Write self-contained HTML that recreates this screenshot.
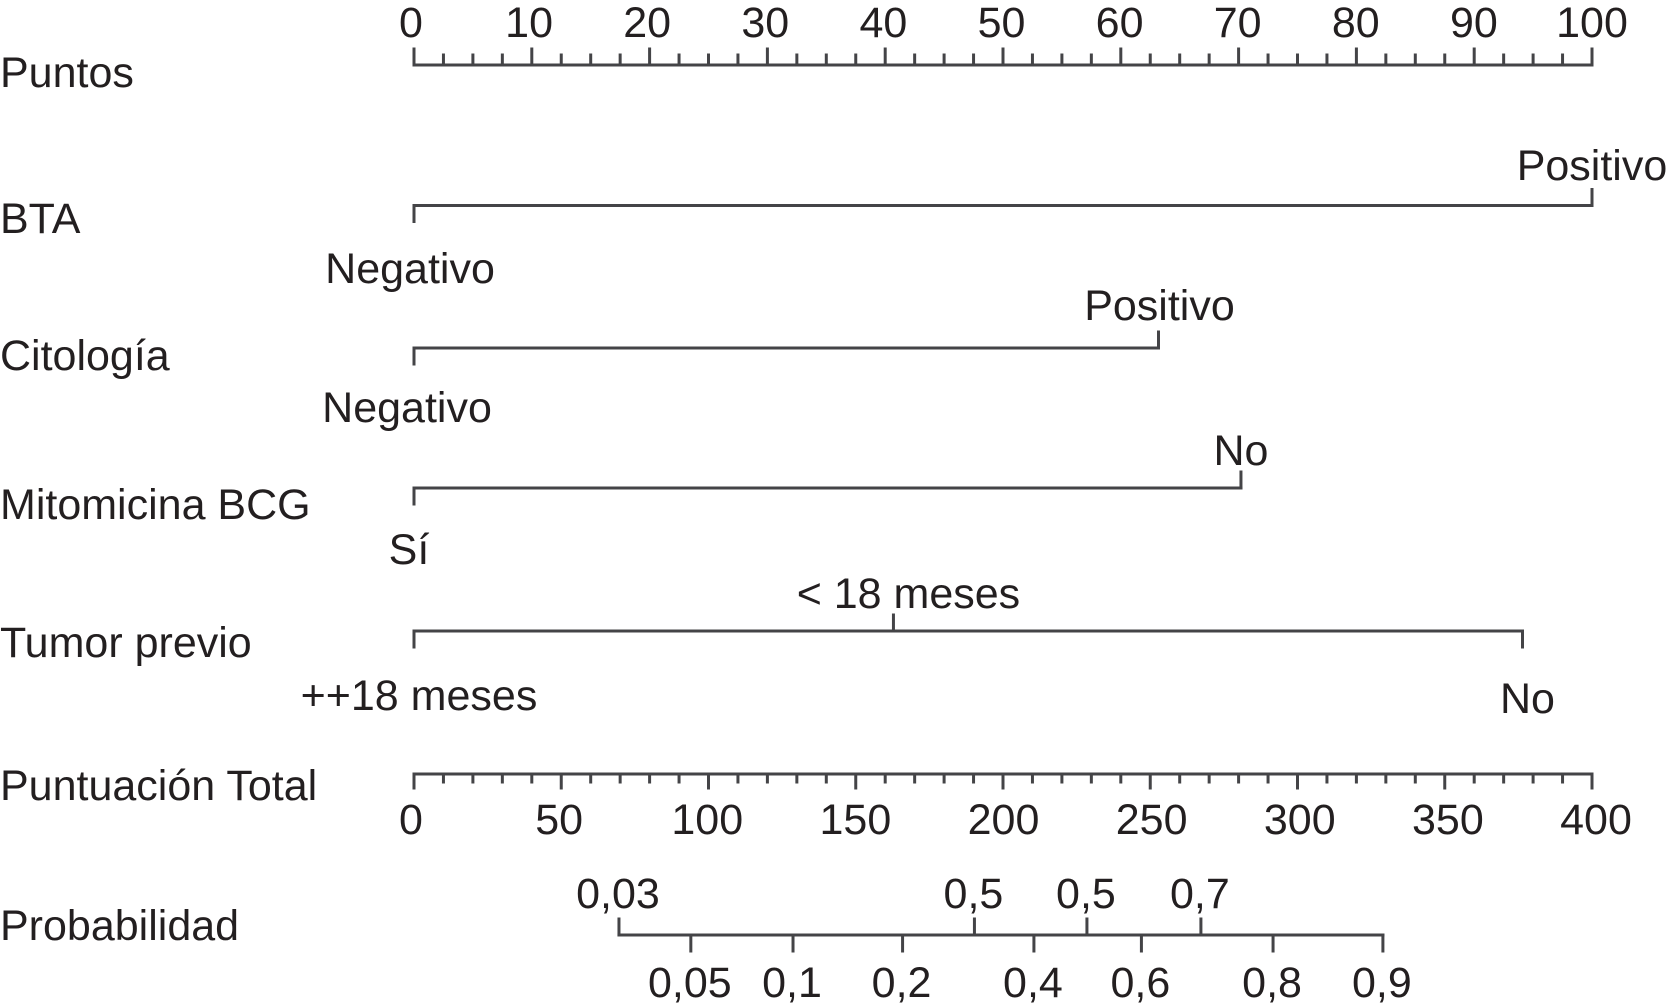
<!DOCTYPE html>
<html lang="es">
<head>
<meta charset="utf-8">
<title>Nomograma</title>
<style>
html,body{margin:0;padding:0;background:#fff;width:1667px;height:1008px;overflow:hidden}
svg{display:block}
text{font-family:"Liberation Sans",Arial,sans-serif;font-size:43px;fill:#231f20}
</style>
</head>
<body>
<svg id="nomogram" xmlns="http://www.w3.org/2000/svg" width="1667" height="1008" viewBox="0 0 1667 1008">
  <rect width="1667" height="1008" fill="#ffffff"/>
  <g>
    <text x="0" y="87">Puntos</text>
    <text x="0" y="233">BTA</text>
    <text x="0" y="370">Citología</text>
    <text x="0" y="519">Mitomicina BCG</text>
    <text x="0" y="657">Tumor previo</text>
    <text x="0" y="800">Puntuación Total</text>
    <text x="0" y="940">Probabilidad</text>
  </g>
</svg>
<script>
// Points axis
const pointsLabels = ['0','10','20','30','40','50','60','70','80','90','100'];
const pointsMajor = [0,10,20,30,40,50,60,70,80,90,100];
const pointsMinor = [2.5,5,7.5,12.5,15,17.5,22.5,25,27.5,32.5,35,37.5,42.5,45,47.5,52.5,55,57.5,62.5,65,67.5,72.5,75,77.5,82.5,85,87.5,92.5,95,97.5];

// Categorical predictors (values in points)
const btaValues = [0,100];
const btaLabels = ['Negativo','Positivo'];
const citologiaValues = [0,63.2];
const citologiaLabels = ['Negativo','Positivo'];
const mitomicinaValues = [0,70.2];
const mitomicinaLabels = ['Sí','No'];
const tumorValues = [0,40.7,94.1];
const tumorLabels = ['++18 meses','< 18 meses','No'];

// Total score axis
const totalLabels = ['0','50','100','150','200','250','300','350','400'];
const totalMajor = [0,50,100,150,200,250,300,350,400];
const totalMinor = [10,20,30,40,60,70,80,90,110,120,130,140,160,170,180,190,210,220,230,240,260,270,280,290,310,320,330,340,360,370,380,390];

// Probability axis (values on the total score scale)
const probLabels = ['0,03','0,05','0,1','0,2','0,5','0,4','0,5','0,6','0,7','0,8','0,9'];
const probScores = [69.6,94,128.7,165.9,190.3,210.5,228.5,247,267.2,291.7,329];
const probSides = ['up','down','down','down','up','down','up','down','up','down','down'];

const SVG_NS = 'http://www.w3.org/2000/svg';
const svg = document.getElementById('nomogram');
const LINE = '#444447';
const X0 = 414;
const X1 = 1592;

function xPoints(v){ return X0 + (X1 - X0) * v / 100; }
function xTotal(v){ return X0 + (X1 - X0) * v / 400; }

function group(name){
  const el = document.createElementNS(SVG_NS,'g');
  
  
  svg.appendChild(el);
  return el;
}
function line(parent,name,x1,y1,x2,y2){
  const el = document.createElementNS(SVG_NS,'line');
  
  
  el.setAttribute('x1',x1);
  el.setAttribute('y1',y1);
  el.setAttribute('x2',x2);
  el.setAttribute('y2',y2);
  el.setAttribute('stroke',LINE);
  el.setAttribute('stroke-width','3');
  el.setAttribute('stroke-linecap','square');
  parent.appendChild(el);
}
function label(parent,name,x,y,content){
  const el = document.createElementNS(SVG_NS,'text');
  
  
  el.setAttribute('x',x);
  el.setAttribute('y',y);
  el.setAttribute('text-anchor','middle');
  el.textContent = content;
  parent.appendChild(el);
}

// Categorical row: first level below the line, then alternating; dx and dy nudge labels by level
function categorical(name,y,values,labels,belowBase,aboveBase,dx,dy){
  const g = group(name + '-axis');
  line(g,name + '-line',xPoints(values[0]),y,xPoints(values[values.length-1]),y);
  values.forEach(function(v,i){
    const x = xPoints(v);
    const below = i % 2 === 0;
    line(g,name + '-tick',x,y,x,below ? y + 16 : y - 16);
    label(g,name + '-level-label',x + dx[i],(below ? belowBase : aboveBase) + dy[i],labels[i]);
  });
}

// Puntos axis
(function(){
  const g = group('puntos-axis');
  const y = 65;
  line(g,'puntos-line',xPoints(0),y,xPoints(100),y);
  pointsMinor.forEach(function(v){
    line(g,'puntos-minor-tick',xPoints(v),y,xPoints(v),y - 10);
  });
  pointsMajor.forEach(function(v,i){
    line(g,'puntos-major-tick',xPoints(v),y,xPoints(v),y - 16);
    label(g,'puntos-tick-label',xPoints(v) - 3 + 3 * v / 100,37,pointsLabels[i]);
  });
})();

categorical('bta',205.5,btaValues,btaLabels,283,180,[-4,0],[0,0]);
categorical('citologia',348,citologiaValues,citologiaLabels,422,320,[-7,1],[0,0]);
categorical('mitomicina-bcg',488,mitomicinaValues,mitomicinaLabels,564,465,[-5,0],[0,0]);
categorical('tumor-previo',631,tumorValues,tumorLabels,710,608,[5,15,5],[0,0,3]);

// Puntuación total axis
(function(){
  const g = group('puntuacion-total-axis');
  const y = 774;
  line(g,'total-line',xTotal(0),y,xTotal(400),y);
  totalMinor.forEach(function(v){
    line(g,'total-minor-tick',xTotal(v),y,xTotal(v),y + 8);
  });
  totalMajor.forEach(function(v,i){
    line(g,'total-major-tick',xTotal(v),y,xTotal(v),y + 14);
    label(g,'total-tick-label',xTotal(v) - 3 + 7 * v / 400,834,totalLabels[i]);
  });
})();

// Probabilidad axis
(function(){
  const g = group('probabilidad-axis');
  const y = 935;
  line(g,'probabilidad-line',xTotal(probScores[0]),y,xTotal(probScores[probScores.length-1]),y);
  probScores.forEach(function(v,i){
    const up = probSides[i] === 'up';
    line(g,'probabilidad-tick',xTotal(v),y,xTotal(v),up ? y - 16 : y + 16);
    label(g,'probabilidad-tick-label',xTotal(v) - 1,up ? 908 : 997,probLabels[i]);
  });
})();
</script>
</body>
</html>
